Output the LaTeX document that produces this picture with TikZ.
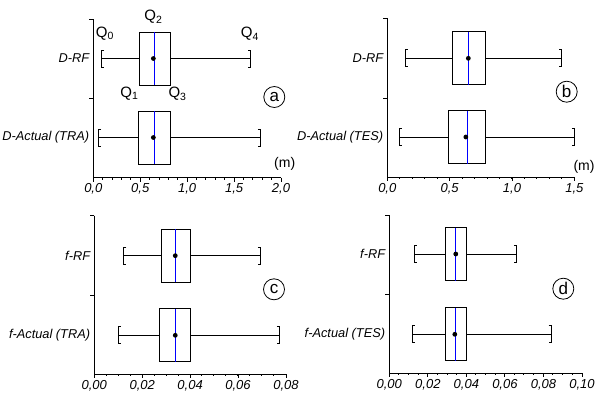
\documentclass[tikz,border=0pt]{standalone}
\usepackage{fontspec}
\setmainfont{Liberation Sans}
\usetikzlibrary{positioning,calc}

\newcommand{\bxrow}[8]{%
  \coordinate (#1w0) at (#3,#2);
  \coordinate (#1q1) at (#4,#2);
  \coordinate (#1q2) at (#5,#2);
  \coordinate (#1q3) at (#6,#2);
  \coordinate (#1w4) at (#7,#2);
  \draw[whisker] (#1w0) -- (#1q1) (#1q3) -- (#1w4);
  \draw[whisker] ($(#1w0)+(2.5pt,8.5pt)$) -- ++(-2.5pt,0pt) -- ++(0pt,-17pt) -- ++(2.5pt,0pt);
  \draw[whisker] ($(#1w4)+(-2.5pt,8.5pt)$) -- ++(2.5pt,0pt) -- ++(0pt,-17pt) -- ++(-2.5pt,0pt);
  \draw[bx] ($(#1q1)+(0pt,26.5pt)$) rectangle ($(#1q3)+(0pt,-26.5pt)$);
  \draw[median] ($(#1q2)+(0pt,26.5pt)$) -- ($(#1q2)+(0pt,-26.5pt)$);
  \fill (#8,#2) circle[radius=2.4pt];
}

\begin{document}
\begin{tikzpicture}[x=1pt,y=-1pt,
    axisline/.style={line width=0.95pt},
    whisker/.style={line width=0.95pt},
    bx/.style={line width=0.95pt},
    median/.style={blue,line width=1pt},
    rowlab/.style={font=\fontsize{12.8}{14}\selectfont\itshape,inner sep=0pt},
    ticklab/.style={font=\fontsize{13}{14}\selectfont\itshape,inner sep=0pt},
    qlab/.style={font=\fontsize{15}{17}\selectfont,inner sep=0pt},
    tagcirc/.style={draw,circle,line width=0.8pt,minimum size=21pt,inner sep=0pt,font=\fontsize{17}{19}\selectfont},
    unitlab/.style={font=\fontsize{14}{16}\selectfont,inner sep=0pt}]
    \useasboundingbox (0,0) rectangle (605,402);

    \begin{scope}[shift={(93.3pt,0pt)},x=93.85pt]
      \draw[axisline] (0,19) -- (0,177.5) -- (2,177.5);
      \draw[axisline] (0,19) -- ++(-4pt,0pt) (0,98.3) -- ++(-4pt,0pt);
      \foreach \t in {0.1,0.2,...,1.95} \draw[axisline] (\t,177.5) -- ++(0pt,-2pt);
      \foreach \t/\lab [count=\i] in {0/{0,0},0.5/{0,5},1/{1,0},1.5/{1,5},2/{2,0}} {
        \draw[axisline] (\t,177.5) -- ++(0pt,-4pt) coordinate (ta\i);
        \node[ticklab, below=2pt of ta\i] (xa\i) {\lab};
      }
      \coordinate (ya1) at (0,58.5);
      \coordinate (ya2) at (0,137.5);
      \node[rowlab, left=4pt of ya1] (la1) {D-RF};
      \node[rowlab, left=4pt of ya2] (la2) {D-Actual (TRA)};
      \bxrow{arf}{58.5}{0.09}{0.49}{0.65}{0.82}{1.68}{0.64}
      \bxrow{atra}{137.5}{0.057}{0.48}{0.65}{0.825}{1.78}{0.64}
    \end{scope}
    \node[qlab] (q0) at ($(arfw0)+(3.1pt,25pt)$) {Q\textsubscript{0}};
    \node[qlab] (q2) at ($(arfq2)+(-0.8pt,41.5pt)$) {Q\textsubscript{2}};
    \node[qlab] (q4) at ($(arfw4)+(-1pt,24.5pt)$) {Q\textsubscript{4}};
    \node[qlab] (q1) at ($(arfq1)+(-9.8pt,-35pt)$) {Q\textsubscript{1}};
    \node[qlab] (q3) at ($(arfq3)+(7.3pt,-35.5pt)$) {Q\textsubscript{3}};
    \node[tagcirc] (tga) at (274.3,97) {a};
    \node[unitlab] (ma) at (284.7,164) {(m)};

    \begin{scope}[shift={(387.3pt,0pt)},x=124.67pt]
      \draw[axisline] (0,18.3) -- (0,177) -- (1.5,177);
      \draw[axisline] (0,18.3) -- ++(-4pt,0pt) (0,98.3) -- ++(-4pt,0pt);
      \foreach \t in {0.1,0.2,...,1.45} \draw[axisline] (\t,177) -- ++(0pt,-2pt);
      \foreach \t/\lab [count=\i] in {0/{0,0},0.5/{0,5},1/{1,0},1.5/{1,5}} {
        \draw[axisline] (\t,177) -- ++(0pt,-4pt) coordinate (tb\i);
        \node[ticklab, below=2pt of tb\i] (xb\i) {\lab};
      }
      \coordinate (yb1) at (0,58.3);
      \coordinate (yb2) at (0,137);
      \node[rowlab, left=4pt of yb1] (lb1) {D-RF};
      \node[rowlab, left=4pt of yb2] (lb2) {D-Actual (TES)};
      \bxrow{brf}{58.3}{0.142}{0.52}{0.65}{0.786}{1.40}{0.65}
      \bxrow{btes}{137}{0.096}{0.49}{0.64}{0.786}{1.50}{0.63}
    \end{scope}
    \node[tagcirc] (tgb) at (566.7,91.7) {b};
    \node[unitlab] (mb) at (584,166.5) {(m)};

    \begin{scope}[shift={(94.3pt,0pt)},x=2396pt]
      \draw[axisline] (0,215.7) -- (0,374.3) -- (0.08,374.3);
      \draw[axisline] (0,215.7) -- ++(-4pt,0pt) (0,295.7) -- ++(-4pt,0pt);
      \foreach \t in {0.005,0.01,...,0.078} \draw[axisline] (\t,374.3) -- ++(0pt,-2pt);
      \foreach \t/\lab [count=\i] in {0/{0,00},0.02/{0,02},0.04/{0,04},0.06/{0,06},0.08/{0,08}} {
        \draw[axisline] (\t,374.3) -- ++(0pt,-4pt) coordinate (tc\i);
        \node[ticklab, below=2pt of tc\i] (xc\i) {\lab};
      }
      \coordinate (yc1) at (0,255.7);
      \coordinate (yc2) at (0,335.3);
      \node[rowlab, left=4pt of yc1] (lc1) {f-RF};
      \node[rowlab, left=4pt of yc2] (lc2) {f-Actual (TRA)};
      \bxrow{crf}{255.7}{0.0123}{0.028}{0.0338}{0.040}{0.0693}{0.0338}
      \bxrow{ctra}{335.3}{0.010}{0.0271}{0.0338}{0.040}{0.0772}{0.0338}
    \end{scope}
    \node[tagcirc] (tgc) at (274,289.3) {c};

    \begin{scope}[shift={(389.3pt,0pt)},x=1927pt]
      \draw[axisline] (0,215) -- (0,373.3) -- (0.1,373.3);
      \draw[axisline] (0,215) -- ++(-4pt,0pt) (0,294.3) -- ++(-4pt,0pt);
      \foreach \t in {0.005,0.01,...,0.098} \draw[axisline] (\t,373.3) -- ++(0pt,-2pt);
      \foreach \t/\lab [count=\i] in {0/{0,00},0.02/{0,02},0.04/{0,04},0.06/{0,06},0.08/{0,08},0.1/{0,10}} {
        \draw[axisline] (\t,373.3) -- ++(0pt,-4pt) coordinate (td\i);
        \node[ticklab, below=2pt of td\i] (xd\i) {\lab};
      }
      \coordinate (yd1) at (0,254);
      \coordinate (yd2) at (0,334.3);
      \node[rowlab, left=4pt of yd1] (ld1) {f-RF};
      \node[rowlab, left=4pt of yd2] (ld2) {f-Actual (TES)};
      \bxrow{drf}{254}{0.013}{0.029}{0.0345}{0.040}{0.066}{0.0345}
      \bxrow{dtes}{334.3}{0.0119}{0.029}{0.0345}{0.040}{0.084}{0.034}
    \end{scope}
    \node[tagcirc] (tgd) at (563.3,288.7) {d};
\end{tikzpicture}
\end{document}
